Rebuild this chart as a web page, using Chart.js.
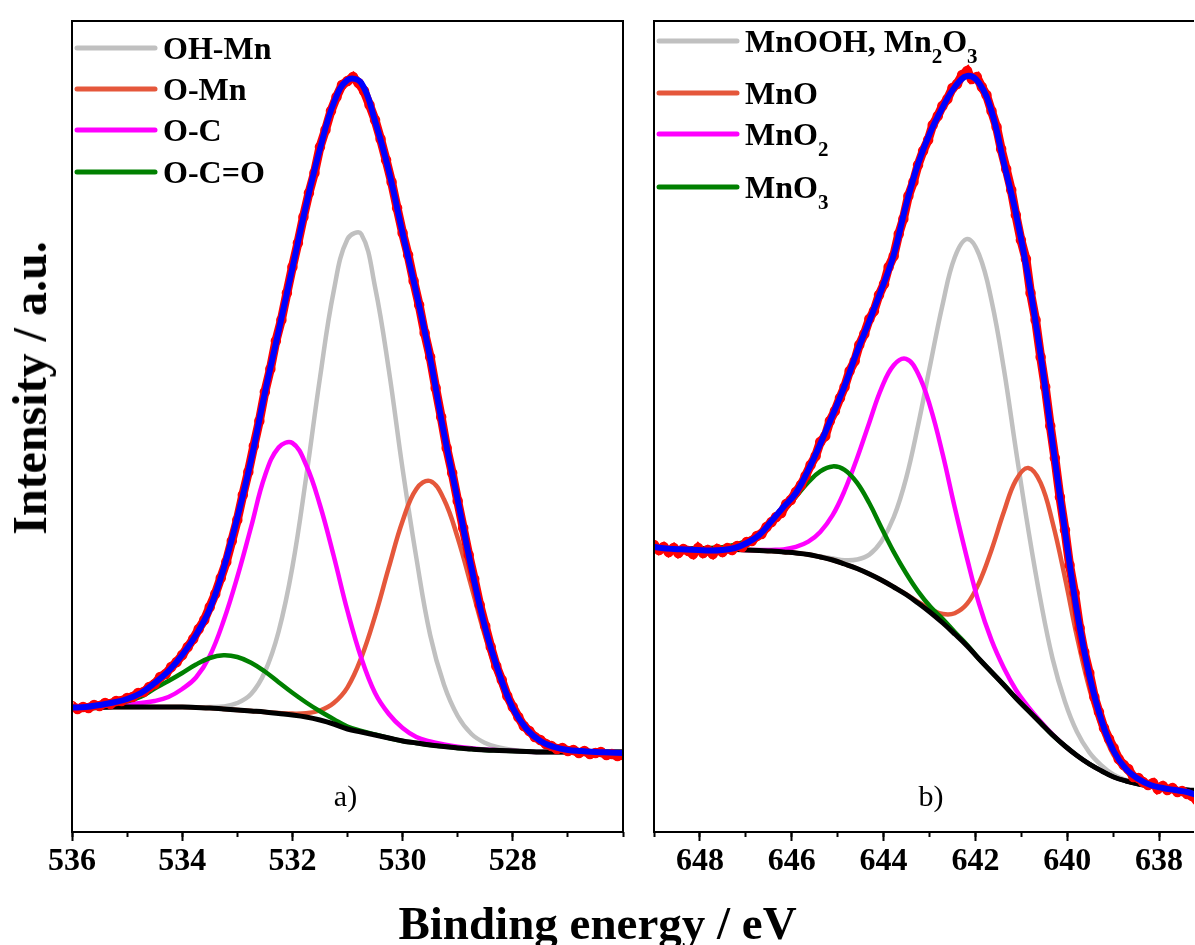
<!DOCTYPE html>
<html>
<head>
<meta charset="utf-8">
<script src="https://cdn.jsdelivr.net/npm/chart.js@4.4.1/dist/chart.umd.min.js"></script>
<style>
  body { margin: 0; background: #fff; width: 1195px; height: 945px; overflow: hidden; position: relative; font-family: "Liberation Serif", serif; }
  #left { position: absolute; left: 0; top: 0; }
  #right { position: absolute; left: 640px; top: 0; }
  .xtitle { position: absolute; left: 0; width: 1195px; top: 900px; text-align: center; font-weight: bold; font-size: 47px; line-height: 47px; white-space: nowrap; }
  .ytitle { position: absolute; left: 30px; top: 388px; transform: translate(-50%, -50%) rotate(-90deg); font-weight: bold; font-size: 48px; line-height: 48px; white-space: nowrap; }
</style>
</head>
<body>
<canvas id="left" width="640" height="945"></canvas>
<canvas id="right" width="560" height="945"></canvas>
<div class="ytitle">Intensity / a.u.</div>
<div class="xtitle">Binding energy / eV</div>
<script>
// ---- a) O 1s : fit grid (eV) and curves ----
const energyO = [536, 535.75, 535.5, 535.25, 535, 534.75, 534.5, 534.25, 534, 533.75, 533.5, 533.25, 533, 532.75, 532.5, 532.25, 532, 531.75, 531.5, 531.25, 531, 530.75, 530.5, 530.25, 530, 529.75, 529.5, 529.25, 529, 528.75, 528.5, 528.25, 528, 527.75, 527.5, 527.25, 527, 526.75, 526.5, 526.25, 526];
const envelopeO = [125.5, 126, 128, 130.5, 134, 140, 150, 162, 178, 198, 224, 264, 315, 373, 440, 502, 565, 628, 684, 730, 753, 750, 712, 662, 600, 540, 475, 400, 333, 265, 205, 160, 125, 104, 92, 86, 83, 82, 81, 80.5, 80];
const backgroundO = [125, 125, 125.5, 126, 126, 126, 126, 126, 126, 125.5, 125, 124, 123, 122, 121, 119.5, 118, 116, 113, 109, 104, 101, 98, 95, 92, 90, 88, 86.5, 85, 84, 83, 82.5, 82, 81.5, 81, 81, 81, 81, 81, 81, 81];
const ohMn = [125, 125, 125.5, 126, 126, 126, 126, 126, 126, 125.8, 126, 126.5, 130, 139, 161, 201.5, 266, 356, 455, 542, 594, 599, 546, 463, 364, 275, 198, 148.5, 117, 99, 90, 85.5, 83, 81.8, 81, 81, 81, 81, 81, 81, 81];
const oMn = [125, 125, 125.5, 126, 126, 126, 126, 126, 126, 125.5, 125, 124, 123, 122, 121, 120, 119.4, 119.8, 122.5, 130, 145.7, 175.3, 216.9, 265.6, 312, 344, 352, 333.7, 295.2, 246.1, 196.4, 154.4, 123.4, 103.1, 91.2, 85.4, 82.7, 81.6, 81.2, 81, 81];
const oC = [125.3, 125.5, 126.5, 127.5, 128.5, 130, 132, 136, 144, 155.5, 177, 212, 256, 306, 357, 385.5, 390, 368, 328, 277, 222, 175, 140, 119, 105, 96, 91.5, 88.5, 86.2, 84.8, 83.5, 82.8, 82.2, 81.5, 81, 81, 81, 81, 81, 81, 81];
const oCO = [125.3, 125.6, 127, 129, 131.8, 136.2, 144.5, 152, 160, 168.5, 175, 177.7, 176, 170.3, 161.5, 150.8, 140.2, 130.5, 121.7, 113.9, 106.5, 102.2, 98.5, 95, 92, 90, 88, 86.5, 85, 84, 83, 82.5, 82, 81.5, 81, 81, 81, 81, 81, 81, 81];
// measured points
const measEnergyO = [536.0, 535.9, 535.8, 535.7, 535.6, 535.5, 535.4, 535.3, 535.2, 535.1, 535.0, 534.9, 534.8, 534.7, 534.6, 534.5, 534.4, 534.3, 534.2, 534.1, 534.0, 533.9, 533.8, 533.7, 533.6, 533.5, 533.4, 533.3, 533.2, 533.1, 533.0, 532.9, 532.8, 532.7, 532.6, 532.5, 532.4, 532.3, 532.2, 532.1, 532.0, 531.9, 531.8, 531.7, 531.6, 531.5, 531.4, 531.3, 531.2, 531.1, 531.0, 530.9, 530.8, 530.7, 530.6, 530.5, 530.4, 530.3, 530.2, 530.1, 530.0, 529.9, 529.8, 529.7, 529.6, 529.5, 529.4, 529.3, 529.2, 529.1, 529.0, 528.9, 528.8, 528.7, 528.6, 528.5, 528.4, 528.3, 528.2, 528.1, 528.0, 527.9, 527.8, 527.7, 527.6, 527.5, 527.4, 527.3, 527.2, 527.1, 527.0, 526.9, 526.8, 526.7, 526.6, 526.5, 526.4, 526.3, 526.2, 526.1, 526.0];
const measO = [127, 124, 126, 125, 128, 127, 130, 129, 132, 132, 135, 136, 140, 141, 146, 149, 156, 159, 166, 171, 178, 186, 194, 204, 213, 226, 239, 255, 271, 292, 313, 338, 361, 387, 412, 441, 464, 492, 513, 540, 566, 590, 616, 640, 660, 686, 703, 722, 736, 748, 752, 756, 750, 742, 728, 713, 694, 673, 651, 625, 600, 578, 552, 528, 500, 476, 445, 416, 385, 360, 332, 305, 278, 254, 228, 207, 186, 167, 153, 137, 126, 116, 107, 102, 96, 93, 89, 87, 84, 85, 82, 83, 80, 82, 79, 80, 81, 78, 79, 77, 78];
const legendO = ["OH-Mn", "O-Mn", "O-C", "O-C=O"];
const ticksO = [536, 534, 532, 530, 528];

// ---- b) Mn 2p3/2 : fit grid (eV) and curves ----
const energyMn = [649.11, 648.84, 648.57, 648.31, 648.04, 647.77, 647.51, 647.24, 646.98, 646.71, 646.44, 646.18, 645.91, 645.64, 645.38, 645.11, 644.85, 644.58, 644.31, 644.05, 643.78, 643.51, 643.25, 642.98, 642.71, 642.45, 642.18, 641.92, 641.65, 641.38, 641.12, 640.85, 640.58, 640.32, 640.05, 639.79, 639.52, 639.25, 638.99, 638.72, 638.45, 638.19, 637.92, 637.66, 637.39, 637.12];
const envelopeMn = [287, 285, 284, 283.5, 283, 282.5, 283, 285, 290, 298, 312, 326, 340, 363, 389, 418, 447, 481, 512, 543, 578, 628, 669, 701, 726, 746, 757, 750, 722, 670, 620, 556, 478, 390, 302, 222, 158, 112, 82, 64, 54, 48, 45, 43, 41, 37];
const backgroundMn = [284, 284, 284, 284, 284, 284, 283.5, 283.5, 283, 282.5, 282, 281, 280, 278.5, 276, 273, 269, 264.5, 259, 253, 246, 238.5, 230, 220.5, 210, 199, 187, 174, 161, 148, 135, 122.5, 110, 98, 87, 77.5, 69, 62, 56, 52, 49, 47, 45, 44, 43, 42.5];
const mnOOH = [284, 284, 284, 284, 284, 284, 283.5, 283.5, 283, 282.5, 282, 281, 280, 278.5, 276.5, 274.5, 272.8, 273.5, 278.4, 291.4, 315.7, 354.7, 407.5, 469.2, 529.6, 575.7, 594, 578.3, 532.5, 463.9, 383.7, 303.8, 232.3, 174.4, 131.2, 101.2, 80.7, 67.4, 58.3, 52.9, 49.3, 47, 45, 44, 43, 42.5];
const mnO = [284, 284, 284, 284, 284, 284, 283.5, 283.5, 283, 282.5, 282, 281, 280, 278.5, 276, 273, 269, 264.5, 259, 253, 246, 238.9, 231.2, 224, 219, 219.8, 229.3, 250.3, 283.1, 321.2, 352.7, 365.1, 350.1, 310.5, 255.3, 196.7, 144.6, 104.9, 77.8, 61.9, 53, 48.5, 45.5, 44, 43, 42.5];
const mnO2 = [284, 284, 284, 284, 284, 284, 283.5, 283.5, 283, 282.9, 283.1, 283.6, 286.1, 291.4, 301.1, 317.8, 342.3, 374.5, 410.6, 444.4, 467.7, 474.1, 459.6, 425.7, 378.2, 325.4, 274.1, 229.1, 192.9, 165, 143.3, 126.2, 111.5, 98.6, 87, 77.5, 69, 62, 56, 52, 49, 47, 45, 44, 43, 42.5];
const mnO3 = [284, 284, 284, 284.2, 284.4, 285, 285.8, 288.3, 292.2, 298.9, 308.8, 321.4, 336.3, 350.8, 361.7, 366.6, 363.2, 350.4, 329.7, 305.5, 281.1, 259.7, 241.6, 226.2, 214, 201, 188, 174, 161, 148, 135, 122.5, 110, 98, 87, 77.5, 69, 62, 56, 52, 49, 47, 45, 44, 43, 42.5];
const measEnergyMn = [649.11, 649.00, 648.89, 648.79, 648.68, 648.57, 648.47, 648.36, 648.25, 648.15, 648.04, 647.93, 647.83, 647.72, 647.62, 647.51, 647.40, 647.30, 647.19, 647.08, 646.98, 646.87, 646.76, 646.66, 646.55, 646.44, 646.34, 646.23, 646.12, 646.02, 645.91, 645.80, 645.70, 645.59, 645.48, 645.38, 645.27, 645.17, 645.06, 644.95, 644.85, 644.74, 644.63, 644.53, 644.42, 644.31, 644.21, 644.10, 643.99, 643.89, 643.78, 643.67, 643.57, 643.46, 643.35, 643.25, 643.14, 643.03, 642.93, 642.82, 642.72, 642.61, 642.50, 642.40, 642.29, 642.18, 642.08, 641.97, 641.86, 641.76, 641.65, 641.54, 641.44, 641.33, 641.22, 641.12, 641.01, 640.90, 640.80, 640.69, 640.58, 640.48, 640.37, 640.27, 640.16, 640.05, 639.95, 639.84, 639.73, 639.63, 639.52, 639.41, 639.31, 639.20, 639.09, 638.99, 638.88, 638.77, 638.67, 638.56, 638.45, 638.35, 638.24, 638.13, 638.03, 637.92, 637.82, 637.71, 637.60, 637.50, 637.39, 637.28, 637.18];
const measMn = [292, 288, 283, 286, 281, 285, 280, 284, 282, 279, 285, 280, 283, 279, 284, 281, 285, 283, 287, 286, 291, 292, 297, 299, 306, 311, 316, 320, 329, 333, 341, 348, 357, 368, 377, 391, 397, 412, 422, 435, 446, 462, 472, 488, 499, 514, 522, 538, 549, 566, 577, 599, 614, 637, 651, 668, 682, 693, 708, 717, 727, 734, 745, 749, 758, 762, 754, 756, 746, 738, 722, 706, 684, 664, 643, 618, 593, 574, 540, 513, 476, 446, 407, 375, 336, 303, 268, 240, 205, 181, 160, 136, 121, 105, 94, 85, 74, 68, 64, 56, 55, 51, 48, 50, 44, 47, 43, 45, 41, 42, 39, 37, 33];
const legendMn = ["MnOOH, Mn_2O_3", "MnO", "MnO_2", "MnO_3"];
const ticksMn = [648, 646, 644, 642, 640, 638];

const compColors = ["#c0c0c0", "#e5573b", "#ff00ff", "#008000"];
const SERIF = '"Liberation Serif", "Times New Roman", serif';

Chart.defaults.font.family = SERIF;

const pts = (xs, ys) => xs.map((x, i) => ({ x: x, y: ys[i] }));

// draws labels like "MnO_2" with a real subscript
function drawRich(ctx, label, x, yb) {
  const parts = label.split(/_(\d)/);
  parts.forEach((p, j) => {
    if (!p) return;
    const sub = j % 2 === 1;
    ctx.font = (sub ? "bold 21px " : "bold 32px ") + SERIF;
    ctx.fillText(p, x, sub ? yb + 11 : yb);
    x += ctx.measureText(p).width;
  });
}

// frame, in-plot legend and panel tag
const panelDecor = {
  id: "panelDecor",
  afterDraw(chart, args, o) {
    const { ctx, chartArea: a } = chart;
    ctx.save();
    ctx.strokeStyle = "#000";
    ctx.lineWidth = 2;
    ctx.beginPath();
    if (o.fullBox) {
      ctx.rect(a.left, a.top, a.right - a.left, a.bottom - a.top);
    } else {
      ctx.moveTo(a.right, a.top);
      ctx.lineTo(a.left, a.top);
      ctx.lineTo(a.left, a.bottom);
      ctx.lineTo(a.right, a.bottom);
    }
    ctx.stroke();

    ctx.fillStyle = "#000";
    ctx.textAlign = "left";
    ctx.textBaseline = "alphabetic";
    o.labels.forEach((lab, i) => {
      const y = a.top + o.rows[i];
      ctx.strokeStyle = compColors[i];
      ctx.lineWidth = 5;
      ctx.lineCap = "round";
      ctx.beginPath();
      ctx.moveTo(a.left + 5, y);
      ctx.lineTo(a.left + 83, y);
      ctx.stroke();
      drawRich(ctx, lab, a.left + 91, y + 11);
    });

    ctx.font = "30px " + SERIF;
    ctx.textAlign = "center";
    ctx.fillText(o.tag, (a.left + a.right) / 2 + o.tagShift, a.bottom - 26);
    ctx.restore();
  }
};

function buildPanel(id, p) {
  const line = (data, color, width) => ({
    data: data, borderColor: color, borderWidth: width, pointRadius: 0,
    tension: 0.4, xAxisID: "x", yAxisID: "y"
  });
  new Chart(document.getElementById(id), {
    type: "line",
    data: {
      datasets: [
        line(pts(p.grid, p.envelope), "#0000ff", 6),
        {
          data: pts(p.measE, p.meas), borderColor: "#ff0000", borderWidth: 9,
          pointRadius: 4.5, pointBorderWidth: 1.5, pointBorderColor: "#ff0000",
          pointBackgroundColor: "rgba(255,255,255,0)", xAxisID: "x", yAxisID: "y"
        },
        line(pts(p.grid, p.background), "#000000", 5),
        line(pts(p.grid, p.comps[3]), compColors[3], 4.5),
        line(pts(p.grid, p.comps[2]), compColors[2], 4.5),
        line(pts(p.grid, p.comps[1]), compColors[1], 4.5),
        line(pts(p.grid, p.comps[0]), compColors[0], 4.5)
      ]
    },
    options: {
      responsive: false,
      animation: false,
      events: [],
      layout: { padding: p.padding },
      scales: {
        x: {
          type: "linear", position: "bottom", weight: 1,
          min: p.min, max: p.max, reverse: true,
          afterFit: (s) => { s.height = 60; s.paddingLeft = 0; s.paddingRight = 0; },
          afterBuildTicks: (s) => { s.ticks = s.ticks.filter((t) => p.ticks.includes(t.value)); },
          ticks: { stepSize: 2, includeBounds: false, autoSkip: false, maxRotation: 0, padding: 2,
                   color: "#000", font: { size: 32, weight: "bold" } },
          grid: { drawOnChartArea: false, tickLength: 9, tickWidth: 2, tickColor: "#000" },
          border: { display: false }
        },
        xm: {
          type: "linear", position: "bottom", weight: 0,
          min: p.min, max: p.max, reverse: true,
          afterFit: (s) => { s.height = 0; s.paddingLeft = 0; s.paddingRight = 0; },
          ticks: { stepSize: 1, includeBounds: false, display: false },
          grid: { drawOnChartArea: false, tickLength: 5, tickWidth: 2, tickColor: "#000" },
          border: { display: false }
        },
        y: { display: false, min: 1, max: 812 }
      },
      plugins: {
        legend: { display: false },
        tooltip: { enabled: false },
        panelDecor: { fullBox: p.fullBox, labels: p.legend, rows: p.rows, tag: p.tag, tagShift: p.tagShift }
      }
    },
    plugins: [panelDecor]
  });
}

buildPanel("left", {
  grid: energyO, envelope: envelopeO, background: backgroundO,
  comps: [ohMn, oMn, oC, oCO], measE: measEnergyO, meas: measO,
  legend: legendO, ticks: ticksO, min: 526, max: 536, tag: "a)", tagShift: -2, fullBox: true,
  rows: [27, 68, 109, 151],
  padding: { left: 72, right: 17, top: 21, bottom: 53 }
});

buildPanel("right", {
  grid: energyMn, envelope: envelopeMn, background: backgroundMn,
  comps: [mnOOH, mnO, mnO2, mnO3], measE: measEnergyMn, meas: measMn,
  legend: legendMn, ticks: ticksMn, min: 637.24, max: 649, tag: "b)", tagShift: 7, fullBox: false,
  rows: [20, 72, 113, 166],
  padding: { left: 14, right: 0, top: 21, bottom: 53 }
});
</script>
</body>
</html>
